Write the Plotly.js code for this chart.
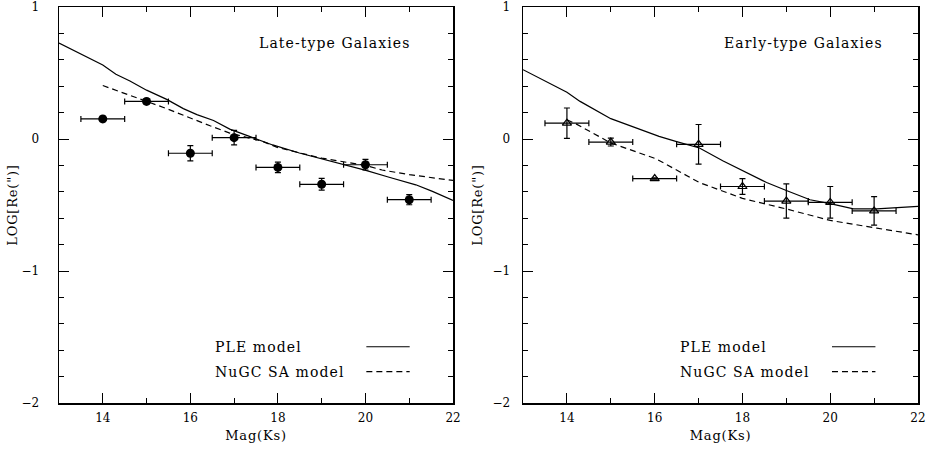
<!DOCTYPE html>
<html>
<head>
<meta charset="utf-8">
<script src="https://cdn.plot.ly/plotly-3.0.1.min.js"></script>
<style>
body{margin:0;padding:0;background:#fff}
#chart{width:928px;height:450px}
text.annotation-text{letter-spacing:1.1px}
text.xtitle, text.x2title, text.ytitle, text.y2title{letter-spacing:0.8px}
</style>
</head>
<body>
<div id="chart"></div>
<script>
// Observed points: magnitude bins
var magBins = [14, 15, 16, 17, 18, 19, 20, 21];
var magHalfWidth = [0.5, 0.5, 0.5, 0.5, 0.5, 0.5, 0.5, 0.5];

// Late-type galaxies (filled circles)
var lateLogRe = [0.152, 0.285, -0.108, 0.01, -0.215, -0.343, -0.195, -0.46];
var lateErr   = [0.02, 0.02, 0.058, 0.055, 0.04, 0.045, 0.04, 0.038];

// Early-type galaxies (open triangles)
var earlyLogRe = [0.12, -0.023, -0.30, -0.04, -0.36, -0.47, -0.48, -0.545];
var earlyErr   = [0.115, 0.03, 0.005, 0.15, 0.06, 0.13, 0.12, 0.108];

// Late-type model curves
var latePleMag = [13, 14, 14.3, 14.62, 15, 15.46, 15.84, 16.15, 16.53, 16.9, 17.35, 17.88, 18.49, 19.1, 19.48, 20.01, 20.54, 21.15, 21.53, 22];
var latePleRe  = [0.727, 0.56, 0.49, 0.44, 0.37, 0.30, 0.23, 0.185, 0.14, 0.075, 0.02, -0.045, -0.106, -0.157, -0.19, -0.238, -0.29, -0.347, -0.397, -0.466];
var lateSaMag  = [14, 15.46, 16.45, 16.9, 17.65, 18, 19, 20, 20.38, 21, 22];
var lateSaRe   = [0.405, 0.23, 0.10, 0.045, -0.018, -0.065, -0.145, -0.2, -0.235, -0.27, -0.314];

// Early-type model curves
var earlyPleMag = [13, 14, 14.3, 15, 15.48, 16.1, 16.48, 17.02, 17.55, 18, 18.55, 19, 19.54, 20, 20.53, 21.06, 22];
var earlyPleRe  = [0.525, 0.354, 0.285, 0.154, 0.096, 0.02, -0.018, -0.068, -0.165, -0.238, -0.33, -0.39, -0.46, -0.49, -0.53, -0.53, -0.51];
var earlySaMag  = [14, 14.2, 15, 16.03, 17.02, 18, 19, 20, 21.06, 22];
var earlySaRe   = [0.146, 0.116, -0.03, -0.15, -0.33, -0.45, -0.53, -0.617, -0.675, -0.726];

var panelTitles = ["Late-type Galaxies", "Early-type Galaxies"];
var legendLabels = ["PLE model", "NuGC SA model"];
var xTitle = "Mag(Ks)";
var yTitle = "LOG[Re(\")]";

var FONT = "DejaVu Serif, Liberation Serif, serif";
var solid = {color: "#000", width: 1.2, dash: "solid"};
var dashed = {color: "#000", width: 1.2, dash: "6px,4px"};

var traces = [
  {x: latePleMag, y: latePleRe, mode: "lines", line: solid, xaxis: "x", yaxis: "y", showlegend: false, hoverinfo: "skip"},
  {x: lateSaMag, y: lateSaRe, mode: "lines", line: dashed, xaxis: "x", yaxis: "y", showlegend: false, hoverinfo: "skip"},
  {x: magBins, y: lateLogRe, mode: "markers", xaxis: "x", yaxis: "y", showlegend: false,
   marker: {symbol: "circle", size: 9, color: "#000"},
   error_x: {type: "data", array: magHalfWidth, visible: true, color: "#000", thickness: 1.2, width: 3},
   error_y: {type: "data", array: lateErr, visible: true, color: "#000", thickness: 1.2, width: 3}},
  {x: earlyPleMag, y: earlyPleRe, mode: "lines", line: solid, xaxis: "x2", yaxis: "y2", showlegend: false, hoverinfo: "skip"},
  {x: earlySaMag, y: earlySaRe, mode: "lines", line: dashed, xaxis: "x2", yaxis: "y2", showlegend: false, hoverinfo: "skip"},
  {x: magBins, y: earlyLogRe, mode: "markers", xaxis: "x2", yaxis: "y2", showlegend: false,
   marker: {symbol: "triangle-up-open", size: 8, color: "#000", line: {color: "#000", width: 1.2}},
   error_x: {type: "data", array: magHalfWidth, visible: true, color: "#000", thickness: 1.2, width: 3},
   error_y: {type: "data", array: earlyErr, visible: true, color: "#000", thickness: 1.2, width: 3}}
];

function xax(domain, anchor) {
  return {
    domain: domain, anchor: anchor, range: [13, 22], dtick: 2, tick0: 14,
    ticks: "inside", ticklen: 10, tickwidth: 1, tickcolor: "#000",
    minor: {dtick: 1, tick0: 13, ticks: "inside", ticklen: 5, tickwidth: 1, tickcolor: "#000"},
    showline: true, linewidth: 1.5, linecolor: "#000", mirror: "ticks",
    showgrid: false, zeroline: false,
    tickfont: {family: FONT, size: 12, color: "#000"},
    ticklabelstandoff: 3,
    title: {text: xTitle, font: {family: FONT, size: 13, color: "#000"}, standoff: 7}
  };
}
function yax(domainAnchor, standoff, titleStandoff) {
  return {
    anchor: domainAnchor, range: [-2, 1], dtick: 1, tick0: 0,
    ticks: "inside", ticklen: 10, tickwidth: 1, tickcolor: "#000",
    minor: {dtick: 0.2, tick0: 0, ticks: "inside", ticklen: 5, tickwidth: 1, tickcolor: "#000"},
    showline: true, linewidth: 1.5, linecolor: "#000", mirror: "ticks",
    showgrid: false, zeroline: false,
    tickfont: {family: FONT, size: 12, color: "#000"},
    ticklabelstandoff: standoff,
    title: {text: yTitle, font: {family: FONT, size: 13, color: "#000"}, standoff: titleStandoff}
  };
}

var annFont = {family: FONT, size: 14, color: "#000"};
var annotations = [
  {xref: "x", yref: "y", x: 17.52, y: 0.73, text: panelTitles[0], showarrow: false, xanchor: "left", yanchor: "middle", font: annFont},
  {xref: "x2", yref: "y2", x: 17.53, y: 0.73, text: panelTitles[1], showarrow: false, xanchor: "left", yanchor: "middle", font: annFont},
  {xref: "x", yref: "y", x: 16.52, y: -1.574, text: legendLabels[0], showarrow: false, xanchor: "left", yanchor: "middle", font: annFont},
  {xref: "x", yref: "y", x: 16.52, y: -1.763, text: legendLabels[1], showarrow: false, xanchor: "left", yanchor: "middle", font: annFont},
  {xref: "x2", yref: "y2", x: 16.53, y: -1.574, text: legendLabels[0], showarrow: false, xanchor: "left", yanchor: "middle", font: annFont},
  {xref: "x2", yref: "y2", x: 16.53, y: -1.763, text: legendLabels[1], showarrow: false, xanchor: "left", yanchor: "middle", font: annFont}
];
var shapes = [
  {type: "line", xref: "x", yref: "y", x0: 20.02, x1: 21.01, y0: -1.574, y1: -1.574, line: solid},
  {type: "line", xref: "x", yref: "y", x0: 20.02, x1: 21.01, y0: -1.763, y1: -1.763, line: dashed},
  {type: "line", xref: "x2", yref: "y2", x0: 20.04, x1: 21.03, y0: -1.574, y1: -1.574, line: solid},
  {type: "line", xref: "x2", yref: "y2", x0: 20.04, x1: 21.03, y0: -1.763, y1: -1.763, line: dashed}
];

var layout = {
  width: 928, height: 450,
  margin: {l: 59, r: 10, t: 7, b: 47},
  paper_bgcolor: "#fff", plot_bgcolor: "#fff",
  showlegend: false,
  xaxis: xax([0, 0.4587], "y"),
  yaxis: yax("x", 16, 1),
  xaxis2: xax([0.5402, 1], "y2"),
  yaxis2: yax("x2", 9, 7),
  annotations: annotations,
  shapes: shapes
};

Plotly.newPlot("chart", traces, layout, {displayModeBar: false, staticPlot: true});
</script>
</body>
</html>
